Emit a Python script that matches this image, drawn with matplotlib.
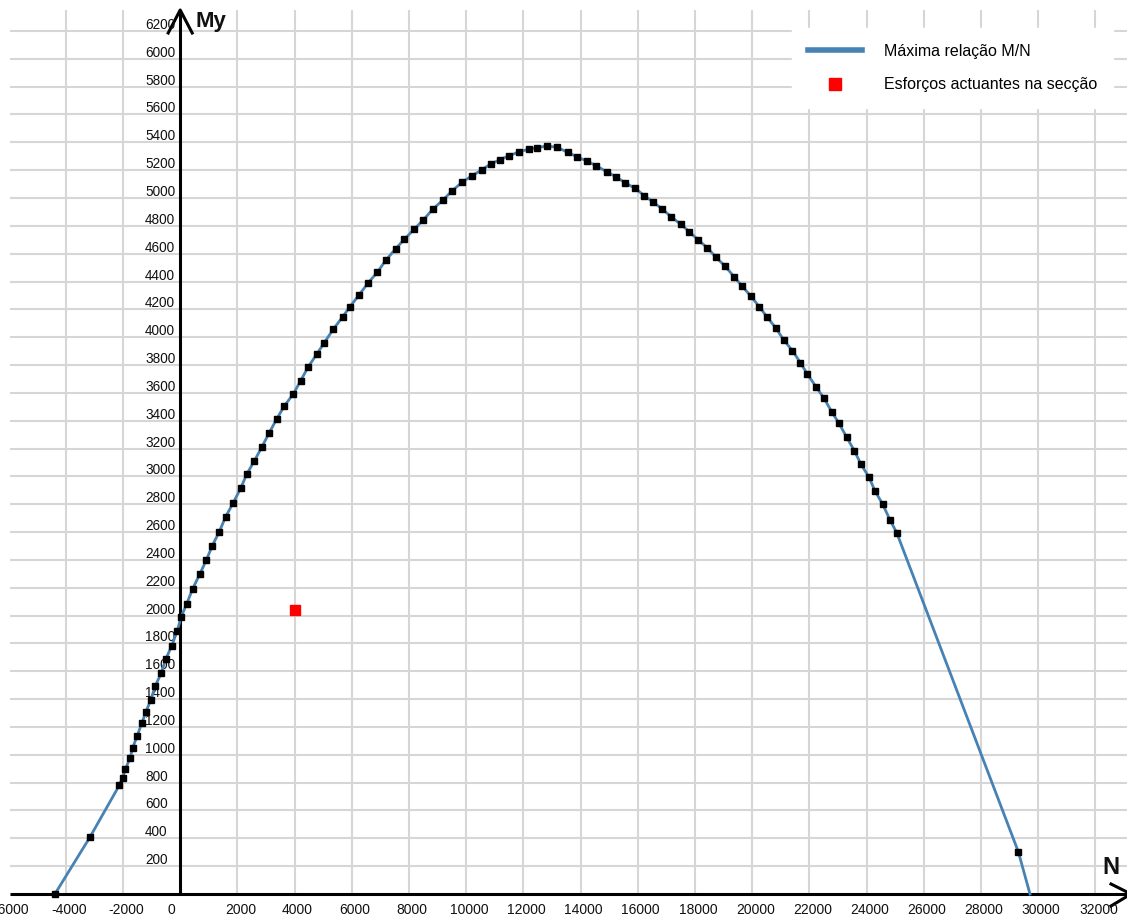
import matplotlib
matplotlib.use("Agg")
import matplotlib.pyplot as plt
from matplotlib.lines import Line2D

plt.rcParams['font.family'] = ['Liberation Sans', 'DejaVu Sans']

# Interaction diagram: axial force N against bending moment My
n_curve = [-4380, -3154, -2129, -2017, -1913, -1755, -1661, -1503, -1346, -1196,
           -1031, -871, -664, -507, -297, -101, 28, 227, 437, 692,
           913, 1122, 1367, 1591, 1857, 2115, 2325, 2591, 2850, 3115,
           3374, 3640, 3955, 4213, 4479, 4773, 5038, 5353, 5675, 5937,
           6252, 6577, 6892, 7196, 7528, 7836, 8185, 8500, 8829, 9189,
           9503, 9853, 10192, 10552, 10867, 11182, 11503, 11857, 12185, 12486,
           12815, 13185, 13549, 13864, 14213, 14538, 14913, 15227, 15553, 15902,
           16227, 16521, 16857, 17161, 17504, 17801, 18115, 18437, 18734, 19049,
           19364, 19633, 19948, 20248, 20528, 20832, 21101, 21409, 21682, 21933,
           22231, 22510, 22780, 23035, 23304, 23570, 23804, 24084, 24294, 24563,
           24818, 25052, 29304, 29713]
my_curve = [0, 409, 781, 835, 900, 975, 1051, 1137, 1226, 1310,
            1394, 1494, 1588, 1686, 1783, 1892, 1988, 2085, 2193, 2301,
            2399, 2502, 2603, 2711, 2811, 2915, 3015, 3111, 3209, 3314,
            3412, 3506, 3592, 3688, 3788, 3877, 3961, 4057, 4145, 4219,
            4303, 4392, 4466, 4555, 4634, 4703, 4777, 4842, 4919, 4986,
            5050, 5113, 5158, 5203, 5246, 5275, 5305, 5331, 5351, 5361,
            5374, 5364, 5328, 5297, 5266, 5232, 5189, 5153, 5110, 5070,
            5017, 4973, 4921, 4866, 4811, 4758, 4698, 4641, 4574, 4511,
            4435, 4370, 4296, 4219, 4143, 4064, 3980, 3903, 3818, 3734,
            3644, 3561, 3465, 3381, 3281, 3185, 3087, 2994, 2895, 2800,
            2687, 2596, 304, 0]

# Forces acting on the section
n_acting = [4000]
my_acting = [2040]

x_ticks = list(range(-6000, 32001, 2000))
y_ticks = list(range(200, 6201, 200))

series_labels = ["Máxima relação M/N", "Esforços actuantes na secção"]

W, H, DPI = 1127, 917, 100
X0_PX, Y0_PX = 180.2, 894.0          # where the two axes cross
N_PER_PX = 2000 / 57.2
MY_PER_PX = 200 / 27.84
PLOT_LEFT_PX, PLOT_TOP_PX = 10, 10


def n_at(px):
    return (px - X0_PX) * N_PER_PX


def my_at(py):
    return (Y0_PX - py) * MY_PER_PX


fig = plt.figure(figsize=(W / DPI, H / DPI), dpi=DPI)
fig.patch.set_facecolor("white")
ax = fig.add_axes([0, 0, 1, 1])
ax.set_xlim(n_at(0), n_at(W))
ax.set_ylim(my_at(H), my_at(0))
ax.axis("off")

grid_color = "#d6d6d6"
n_left = n_at(PLOT_LEFT_PX)
my_top = my_at(PLOT_TOP_PX)

# grid
ax.vlines([v for v in x_ticks if v > n_left and v != 0], 0, my_top,
          color=grid_color, lw=1.5, zorder=1)
ax.hlines(y_ticks, n_left, n_at(W + 5), color=grid_color, lw=1.5, zorder=1)

# axes with open arrow heads
ax.plot([n_left, n_at(W + 5)], [0, 0], color="black", lw=2.2, zorder=3,
        solid_capstyle="butt")
ax.plot([0, 0], [0, my_top], color="black", lw=2.2, zorder=3,
        solid_capstyle="butt")
ax.plot([n_at(X0_PX - 12), 0, n_at(X0_PX + 12)],
        [my_at(PLOT_TOP_PX + 23), my_top, my_at(PLOT_TOP_PX + 23)],
        color="black", lw=2.2, zorder=3)
ax.plot([n_at(1111), n_at(1131), n_at(1111)],
        [my_at(Y0_PX - 10), 0, my_at(Y0_PX + 12)],
        color="black", lw=2.2, zorder=3, clip_on=False)

# tick labels
for v in x_ticks:
    dx = -9 if v == 0 else 3
    ax.annotate(f"{v}", xy=(v, 0), xytext=(dx, -16), textcoords="offset pixels",
                ha="center", va="center", fontsize=10, color="#111111",
                annotation_clip=False, zorder=4)
for v in y_ticks:
    ax.annotate(f"{v}", xy=(0, v), xytext=(-35, 6), textcoords="offset pixels",
                ha="left", va="center", fontsize=9.8, color="#111111", zorder=4)

ax.annotate("My", xy=(0, my_top), xytext=(15, -11), textcoords="offset pixels",
            ha="left", va="center", fontsize=16, fontweight="bold", color="#111111")
ax.annotate("N", xy=(n_at(W), 0), xytext=(-16, 26), textcoords="offset pixels",
            ha="center", va="center", fontsize=17, fontweight="bold", color="#111111")

# data
line_color = "#4682b4"
ax.plot(n_curve, my_curve, color=line_color, lw=2.0, zorder=5)
ax.plot(n_curve[:-1], my_curve[:-1], ls="none", marker="s", ms=4.3,
        color="black", zorder=6)
ax.plot(n_acting, my_acting, ls="none", marker="s", ms=7.2, color="red", zorder=7)

handles = [Line2D([], [], color=line_color, lw=4),
           Line2D([], [], ls="none", marker="s", ms=8, color="red")]
leg = ax.legend(handles, series_labels, loc="upper right",
                bbox_to_anchor=(1113 / W, 1 - 28 / H), fontsize=11.5,
                frameon=True, fancybox=False, framealpha=1, facecolor="white",
                edgecolor="white", handlelength=3.4, handletextpad=1.35,
                borderpad=1.0, labelspacing=1.15, borderaxespad=0)
leg.set_zorder(10)

fig.savefig("out.png", dpi=DPI, facecolor="white")
